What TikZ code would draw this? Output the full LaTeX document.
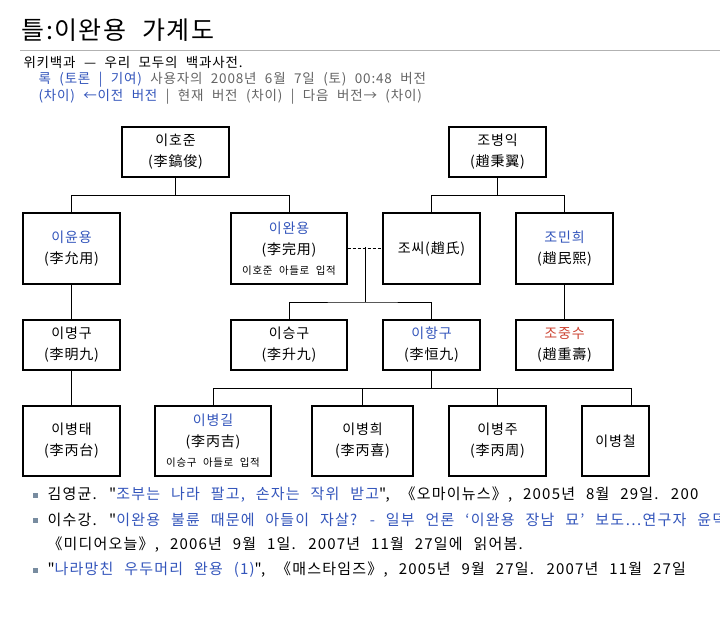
\documentclass[tikz,border=0pt]{standalone}
\usepackage{fontspec}
\setmainfont{Noto Sans CJK KR}
\newfontfamily\widefont[WordSpace=2.2,LetterSpace=6]{Noto Sans CJK KR}
\newfontfamily\reffont[WordSpace=2.4,LetterSpace=8]{Noto Sans CJK KR}
\usepackage{xcolor}
\usetikzlibrary{calc}
\definecolor{wlink}{RGB}{51, 85, 187}
\definecolor{wred}{RGB}{204, 68, 51}
\definecolor{wgray}{RGB}{100, 100, 100}
\definecolor{wbullet}{RGB}{120, 140, 160}
\newcommand\notefont{\fontsize{10.5}{13}\selectfont}

\begin{document}
\begin{tikzpicture}[x=1pt,y=-1pt,
  person/.style={draw, line width=1.4pt, align=center, inner sep=0pt,
    font=\widefont\fontsize{14}{21}\selectfont},
  tree/.style={line width=0.7pt},
  bul/.style={anchor=west, font=\reffont\fontsize{15}{16}\selectfont}]
\useasboundingbox (0,0) rectangle (720,620);

% Header
\node[anchor=west, font=\widefont\fontsize{25}{28}\selectfont] (title) at (18,30) {틀:이완용 가계도};
\draw[gray!60, line width=0.8pt] (20,50) -- (720,50);
\node[anchor=west, font=\widefont\fontsize{13.5}{14}\selectfont] (sub) at (20,62) {위키백과 — 우리 모두의 백과사전.};
\node[anchor=west, font=\widefont\fontsize{13.5}{14}\selectfont, wgray] (rev1) at (35,80)
  {\textcolor{wlink}{록 (토론 | 기여)} 사용자의 2008년 6월 7일 (토) 00:48 버전};
\node[anchor=west, font=\widefont\fontsize{13.5}{14}\selectfont, wgray] (rev2) at (35,97)
  {\textcolor{wlink}{(차이) ←이전 버전} | 현재 버전 (차이) | 다음 버전→ (차이)};

% Row 1
\node[person, minimum width=107pt, minimum height=50pt] (hojun) at (175.5,152) {이호준\\(李鎬俊)};
\node[person, minimum width=97pt, minimum height=50pt] (byeongik) at (497.5,152) {조병익\\(趙秉翼)};
% Row 2
\node[person, minimum width=97pt, minimum height=71pt] (yunyong) at (71.5,248.5) {\textcolor{wlink}{이윤용}\\(李允用)};
\node[person, minimum width=116pt, minimum height=71pt] (wanyong) at (289,248.5)
  {\textcolor{wlink}{이완용}\\(李完用)\\[-1pt]{\notefont 이호준 아들로 입적}};
\node[person, minimum width=97pt, minimum height=71pt] (jossi) at (431.5,248.5) {조씨(趙氏)};
\node[person, minimum width=97pt, minimum height=71pt] (minhui) at (564.5,248.5) {\textcolor{wlink}{조민희}\\(趙民熙)};
% Row 3
\node[person, minimum width=97pt, minimum height=50pt] (myeonggu) at (71.5,345) {이명구\\(李明九)};
\node[person, minimum width=116pt, minimum height=50pt] (seunggu) at (289,345) {이승구\\(李升九)};
\node[person, minimum width=97pt, minimum height=50pt] (hanggu) at (431.5,345) {\textcolor{wlink}{이항구}\\(李恒九)};
\node[person, minimum width=97pt, minimum height=50pt] (jungsu) at (564.5,345) {\textcolor{wred}{조중수}\\(趙重壽)};
% Row 4
\node[person, minimum width=97pt, minimum height=70pt] (byeongtae) at (71.5,441) {이병태\\(李丙台)};
\node[person, minimum width=116pt, minimum height=70pt] (byeonggil) at (213,441)
  {\textcolor{wlink}{이병길}\\(李丙吉)\\[-1pt]{\notefont 이승구 아들로 입적}};
\node[person, minimum width=101pt, minimum height=70pt] (byeonghui) at (362.5,441) {이병희\\(李丙喜)};
\node[person, minimum width=97pt, minimum height=70pt] (byeongju) at (497.5,441) {이병주\\(李丙周)};
\node[person, minimum width=67pt, minimum height=70pt] (byeongcheol) at (615.5,441) {이병철};

% Connectors
\coordinate (j1) at ($(hojun.south)+(0,18)$);
\coordinate (j2) at ($(byeongik.south)+(0,18)$);
\coordinate (m1) at (365,247);
\coordinate (j3) at (365,302);
\coordinate (j4) at ($(hanggu.south)+(0,18)$);
\coordinate (c1) at (631,406);
\draw[tree] (hojun.south) -- (j1);
\draw[tree] (yunyong.north) |- (j1) -| (wanyong.north);
\draw[tree] (byeongik.south) -- (j2);
\draw[tree] (jossi.north) |- (j2) -| (minhui.north);
\draw[tree, densely dashed] (wanyong.east) -- (jossi.west);
\draw[tree] (m1) -- (j3);
\draw[tree] (seunggu.north) |- (j3) -| (hanggu.north);
\draw[tree] (minhui.south) -- (jungsu.north);
\draw[tree] (yunyong.south) -- (myeonggu.north);
\draw[tree] (myeonggu.south) -- (byeongtae.north);
\draw[tree] (hanggu.south) -- (j4);
\draw[tree] (byeonggil.north) |- (j4) -| (c1);
\draw[tree] (byeonghui.north) -- (byeonghui.north |- j4);
\draw[tree] (byeongju.north) -- (byeongju.north |- j4);

% References
\foreach \y in {495,520,570} \fill[wbullet] (33,\y-2.5) rectangle (38,\y+2.5);
\node[bul] (ref1) at (44,495) {김영균. "\textcolor{wlink}{조부는 나라 팔고, 손자는 작위 받고}", 《오마이뉴스》, 2005년 8월 29일. 200};
\node[bul] (ref2) at (44,520) {이수강. "\textcolor{wlink}{이완용 불륜 때문에 아들이 자살? - 일부 언론 ‘이완용 장남 묘’ 보도…연구자 윤덕}};
\node[bul] (ref2b) at (44,545) {《미디어오늘》, 2006년 9월 1일. 2007년 11월 27일에 읽어봄.};
\node[bul] (ref3) at (44,570) {"\textcolor{wlink}{나라망친 우두머리 완용 (1)}", 《매스타임즈》, 2005년 9월 27일. 2007년 11월 27일};
\end{tikzpicture}
\end{document}
